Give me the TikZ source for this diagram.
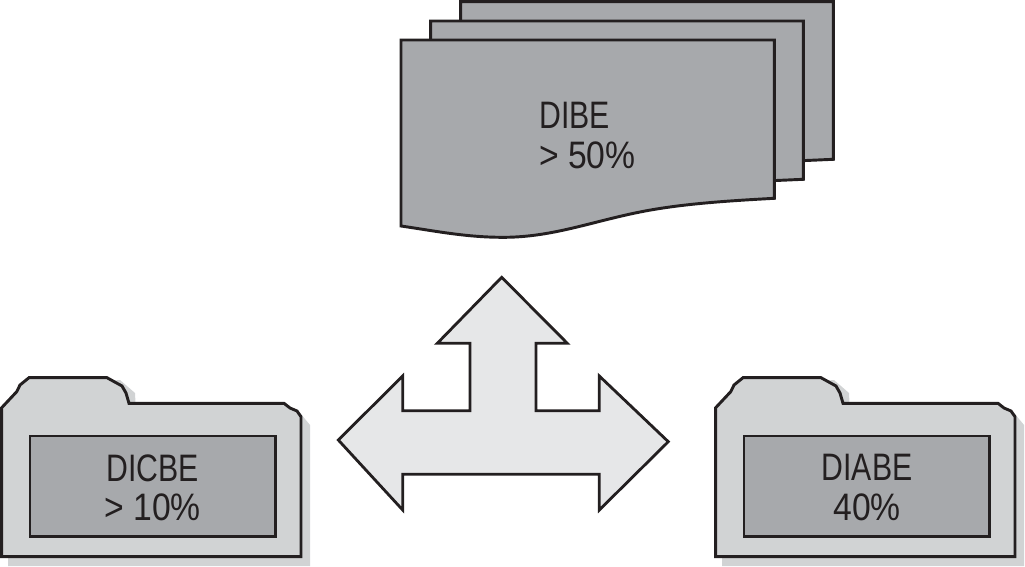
\documentclass[tikz,border=0pt]{standalone}
\usepackage{fontspec}
\setmainfont[FakeStretch=0.79]{Liberation Sans}
\newfontfamily\widerfig[FakeStretch=0.88]{Liberation Sans}
\definecolor{ink}{HTML}{231F20}
\definecolor{folderc}{HTML}{D1D3D4}
\definecolor{pagec}{HTML}{A7A9AC}
\definecolor{arrowc}{HTML}{E6E7E8}
\tikzset{
  outline/.style={draw=ink,line width=2.2pt,line join=miter,miter limit=4},
  folderpart/.style={outline,fill=folderc},
  pagepart/.style={outline,fill=pagec},
  arrowpart/.style={outline,fill=arrowc,line width=2.1pt},
  shadowpart/.style={fill=folderc},
  label/.style={text=ink,font=\fontsize{28.7pt}{29.3pt}\selectfont,inner sep=0pt,align=center},
  labelleft/.style={label,align=left},
  pics/folder/.style={code={
    \path[shadowpart] (8,416) -- (8,566) -- (310,566) -- (310,425) -- (300,413) -- (136,413) -- (135,393) -- (120,380) -- (60,385) -- cycle;
    \path[folderpart] (1.7,556.7) -- (1.7,407.7) -- (16.7,391.7) -- (20,385) -- (29,377.7) -- (107,377.7) -- (122,386) -- (126,393) -- (129,403.3) -- (284,403.3) -- (290,408) -- (297,411) -- (301,416.7) -- (301,556.7) -- cycle;
    \path[pagepart] (30,436) rectangle (275.7,536.7);
  }}
}
\begin{document}
\begin{tikzpicture}[x=0.75pt,y=-0.75pt]
\useasboundingbox (0,0) rectangle (1025,567);
% stacked pages
\path[pagepart] (460.7,1.7) -- (833.3,1.7) -- (833.3,159.3) -- (795,161) -- (795,100) -- (460.7,100) -- cycle;
\path[pagepart] (430.7,21) -- (803.3,21) -- (803.3,179.3) -- (765,181) -- (765,120) -- (430.7,120) -- cycle;
\path[pagepart] (401,40) -- (774.3,40) -- (774.3,198.3) .. controls (725,201) and (680,204) .. (640,212) .. controls (590,222) and (550,238) .. (500,237.3) .. controls (465,237) and (435,231) .. (401,226) -- cycle;
\node[labelleft,anchor=west] (dibe) at (539,135.5) {DIBE\\{\widerfig > 50\%}};
% three-way arrow
\path[arrowpart] (501.7,277.3) -- (567.3,343.3) -- (536,343.3) -- (536,410.7) -- (599.3,410.7) -- (599.3,376) -- (668.3,441.7) -- (599.3,510) -- (599.3,474.3) -- (402.7,474.3) -- (402.7,510) -- (338.3,440) -- (402.7,376) -- (402.7,410.7) -- (470,410.7) -- (470,343.3) -- (437.3,343.3) -- cycle;
% folders
\pic (left) {folder};
\pic[xshift=535.5pt] (right) {folder};
\node[label] (dicbe) at (152.5,487.5) {DICBE\\{\widerfig > 10\%}};
\node[label] (diabe) at (867,487.5) {DIABE\\{\widerfig 40\%}};
\end{tikzpicture}
\end{document}
